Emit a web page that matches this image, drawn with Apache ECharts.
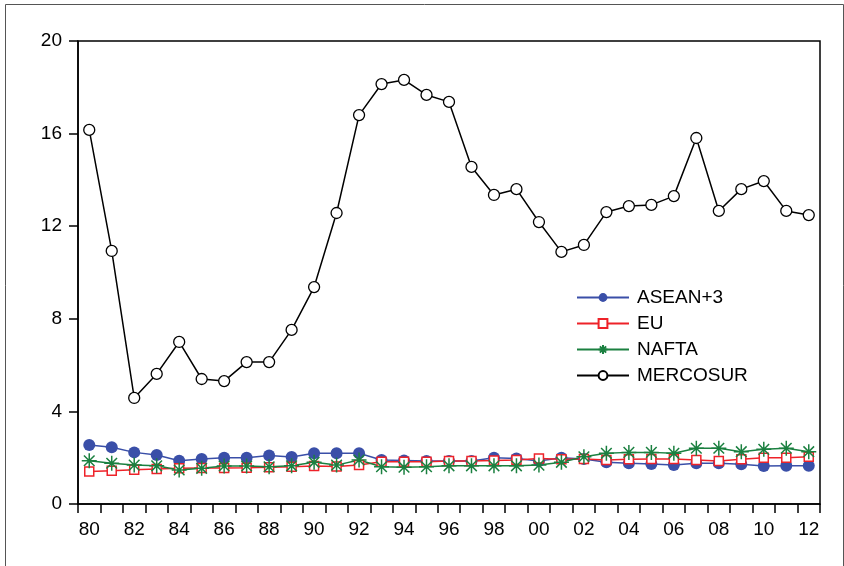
<!DOCTYPE html>
<html><head><meta charset="utf-8">
<script src="https://cdn.jsdelivr.net/npm/echarts@6/dist/echarts.min.js"></script>
<style>html,body{margin:0;padding:0;background:#fff}#c{width:844px;height:566px}</style>
</head><body><div id="c"></div>
<script>
const years = ['80','81','82','83','84','85','86','87','88','89','90','91','92','93','94','95','96','97','98','99','00','01','02','03','04','05','06','07','08','09','10','11','12'];
const asean = [2.55,2.45,2.23,2.12,1.87,1.94,2.0,2.0,2.09,2.03,2.19,2.19,2.19,1.90,1.88,1.86,1.86,1.86,2.0,1.97,1.86,2.0,1.94,1.80,1.76,1.73,1.68,1.76,1.76,1.72,1.64,1.65,1.65];
const eu = [1.40,1.44,1.48,1.51,1.54,1.55,1.56,1.57,1.59,1.61,1.64,1.62,1.68,1.83,1.83,1.83,1.86,1.86,1.88,1.90,1.97,1.93,1.94,1.90,1.93,1.94,1.94,1.90,1.86,1.93,2.0,2.0,2.04];
const nafta = [1.87,1.76,1.68,1.65,1.47,1.54,1.64,1.64,1.61,1.65,1.80,1.68,1.90,1.61,1.59,1.61,1.65,1.65,1.65,1.65,1.68,1.80,2.04,2.19,2.23,2.23,2.19,2.41,2.41,2.26,2.36,2.41,2.26];
const mercosur = [16.16,10.93,4.58,5.62,7.0,5.40,5.31,6.13,6.13,7.52,9.37,12.57,16.80,18.14,18.32,17.67,17.37,14.56,13.35,13.6,12.18,10.89,11.19,12.61,12.87,12.92,13.3,15.81,12.66,13.6,13.95,12.66,12.48];
const yTicks = {min:0, max:20, interval:4};

const FONT = 'Liberation Sans, Arial, sans-serif';
const BLUE = '#3A4FA8', RED = '#EE2229', GREEN = '#1B8040', BLACK = '#000';
const ASTER = 'path://M10,0L10,20M0,10L20,10M2.93,2.93L17.07,17.07M2.93,17.07L17.07,2.93';

const chart = echarts.init(document.getElementById('c'), null, {renderer:'canvas'});
chart.setOption({
  animation:false,
  backgroundColor:'#fff',
  graphic:[{type:'rect', left:3, top:2, shape:{width:838, height:580}, style:{fill:'none', stroke:'#555', lineWidth:1}, silent:true}],
  grid:{left:78, top:41, right:24, bottom:62, show:true, borderColor:'#000', borderWidth:1.5, backgroundColor:'transparent'},
  legend:{
    orient:'vertical', left:576, top:288, padding:0, itemWidth:52, itemHeight:11, itemGap:7,
    textStyle:{fontFamily:FONT, fontSize:19, color:'#000', padding:[0,0,0,3]},
    data:['ASEAN+3','EU','NAFTA','MERCOSUR']
  },
  xAxis:{
    type:'category', data:years, boundaryGap:true,
    axisLine:{lineStyle:{color:'#000', width:1.5}},
    axisTick:{show:true, interval:0, length:9, lineStyle:{color:'#000', width:1.5}},
    axisLabel:{interval:1, fontFamily:FONT, fontSize:19, color:'#000', margin:16},
    splitLine:{show:false}
  },
  yAxis:{
    type:'value', min:yTicks.min, max:yTicks.max, interval:yTicks.interval,
    axisLine:{show:true, lineStyle:{color:'#000', width:1.5}},
    axisTick:{show:true, length:9, lineStyle:{color:'#000', width:1.5}},
    axisLabel:{fontFamily:FONT, fontSize:19, color:'#000', margin:16},
    splitLine:{show:false}
  },
  series:[
    {name:'ASEAN+3', type:'line', data:asean, symbol:'circle', symbolSize:12, showAllSymbol:true,
     itemStyle:{color:BLUE}, lineStyle:{color:BLUE, width:1.5}},
    {name:'EU', type:'line', data:eu, symbol:'rect', symbolSize:9, showAllSymbol:true,
     itemStyle:{color:'#fff', borderColor:RED, borderWidth:1.5}, lineStyle:{color:RED, width:1.5}},
    {name:'NAFTA', type:'line', data:nafta, symbol:ASTER, symbolSize:15, showAllSymbol:true,
     itemStyle:{color:GREEN, borderColor:GREEN, borderWidth:1.5}, lineStyle:{color:GREEN, width:1.5}},
    {name:'MERCOSUR', type:'line', data:mercosur, symbol:'circle', symbolSize:11, showAllSymbol:true,
     itemStyle:{color:'#fff', borderColor:BLACK, borderWidth:1.3}, lineStyle:{color:BLACK, width:1.5}}
  ]
});
</script></body></html>
